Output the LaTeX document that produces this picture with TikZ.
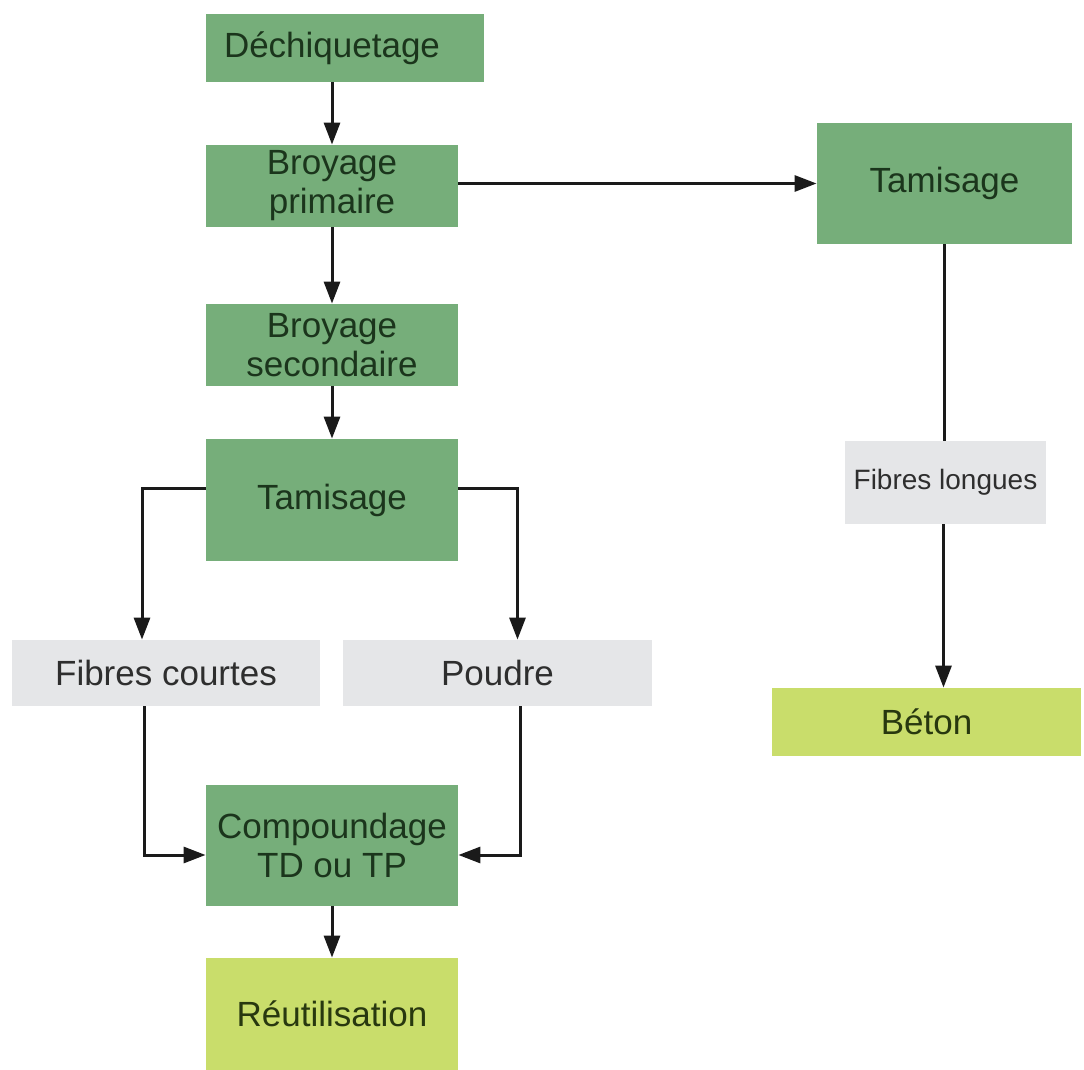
\documentclass[tikz,border=0pt]{standalone}
\usepackage{fontspec}
\setmainfont{Liberation Sans}
\usetikzlibrary{arrows.meta,positioning}
\definecolor{vert}{HTML}{76AE7A}
\definecolor{vertfonce}{HTML}{1B351C}
\definecolor{anis}{HTML}{C9DD6B}
\definecolor{olive}{HTML}{28380F}
\definecolor{gris}{HTML}{E5E6E8}
\definecolor{encre}{HTML}{1A1A1A}

\begin{document}
\begin{tikzpicture}[x=0.5pt,y=-0.5pt,
  font=\fontsize{17.5}{19.5}\selectfont,
  etape/.style={fill=vert,text=vertfonce,align=center,inner sep=0pt,minimum width=126pt,minimum height=41pt},
  produit/.style={fill=anis,text=olive,align=center,inner sep=0pt},
  fraction/.style={fill=gris,text=black!82,align=center,inner sep=0pt,minimum height=33pt},
  fleche/.style={-{Triangle[length=11pt,width=8pt]},line width=1.5pt,encre},
  trait/.style={line width=1.5pt,encre}]
\useasboundingbox (0,0) rectangle (1084,1070);
\node[etape,minimum width=139pt,minimum height=34pt] (dech) at (345,48) {Déchiquetage\hspace*{13pt}};
\node[etape] (bp) at (332,186) {Broyage\\primaire};
\node[etape,minimum width=127.5pt,minimum height=60.5pt] (tamR) at (944.5,183.5) {Tamisage};
\node[etape] (bs) at (332,345) {Broyage\\secondaire};
\node[etape,minimum height=61pt] (tamM) at (332,500) {Tamisage};
\node[fraction,minimum width=154pt] (fc) at (166,673) {Fibres courtes};
\node[fraction,minimum width=154.5pt] (poudre) at (497.5,673) {Poudre};
\node[fraction,minimum width=100.5pt,minimum height=41.5pt,font=\fontsize{14}{16}\selectfont] (fl) at (945.5,482.5) {Fibres longues};
\node[produit,minimum width=154.5pt,minimum height=34pt] (beton) at (926.5,722) {Béton};
\node[etape,minimum height=60.5pt] (comp) at (332,845.5) {Compoundage\\TD ou TP};
\node[produit,minimum width=126pt,minimum height=56pt] (reut) at (332,1014) {Réutilisation};
\draw[fleche] (bp.north |- dech.south) -- (bp.north);
\draw[fleche] (bp.east |- tamR.west) -- (tamR.west);
\draw[fleche] (bp) -- (bs);
\draw[fleche] (bs) -- (tamM);
\draw[fleche] ([yshift=5.5pt]tamM.west) -| ([xshift=-12pt]fc.north);
\draw[fleche] ([yshift=5.5pt]tamM.east) -| ([xshift=10pt]poudre.north);
\draw[fleche] ([xshift=-11pt]fc.south) |- ([yshift=-4.75pt]comp.west);
\draw[fleche] ([xshift=11.25pt]poudre.south) |- ([yshift=-4.75pt]comp.east);
\draw[fleche] (comp) -- (reut);
\draw[trait] (tamR.south) -- (tamR.south |- fl.north);
\draw[fleche] ([xshift=-1pt]fl.south) -- ([xshift=-1pt]fl.south |- beton.north);
\end{tikzpicture}
\end{document}
